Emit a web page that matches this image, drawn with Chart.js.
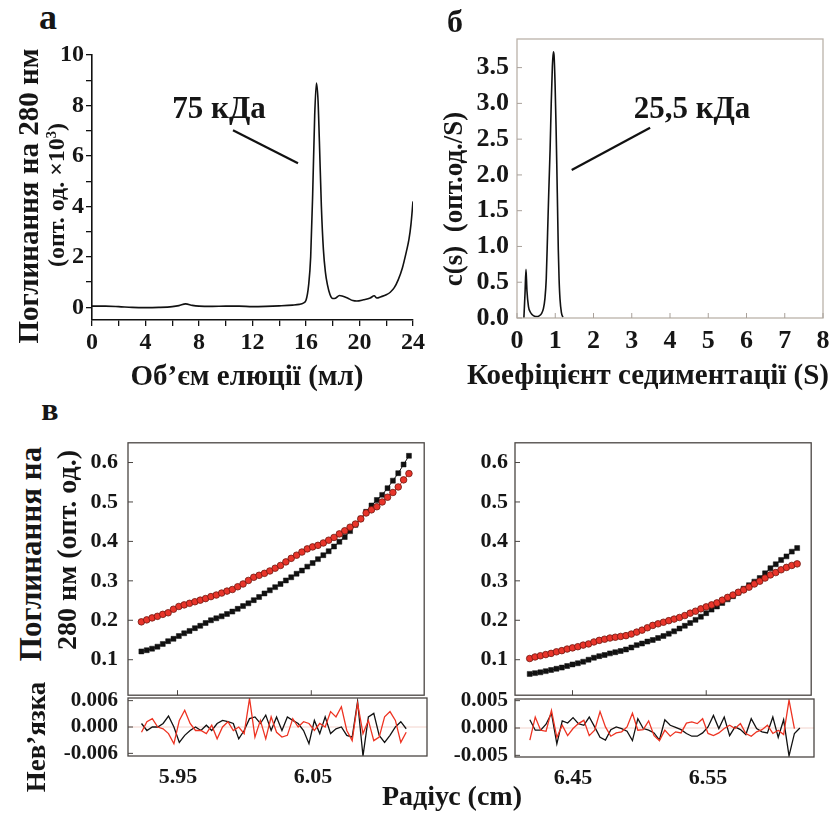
<!DOCTYPE html>
<html>
<head>
<meta charset="utf-8">
<script src="https://cdn.jsdelivr.net/npm/chart.js@4.4.1/dist/chart.umd.min.js"></script>
<style>
  body { margin: 0; background: #fff; }
  #fig { position: relative; width: 832px; height: 814px; overflow: hidden; }
  canvas { position: absolute; }
  .t { position: absolute; font-family: 'Liberation Serif', 'Times New Roman', serif; font-weight: bold;
       white-space: nowrap; line-height: 1; color: #161616; transform: translate(-50%, -50%); }
  .rot { transform: translate(-50%, -50%) rotate(-90deg); }
  sup { font-size: 60%; vertical-align: 0.55em; }
</style>
</head>
<body>
<div id="fig">
  <canvas id="a" width="398" height="330" style="left:30px;top:45px"></canvas>
  <canvas id="b" width="371" height="349" style="left:460px;top:29px"></canvas>
  <canvas id="clt" width="369" height="262" style="left:60px;top:438px"></canvas>
  <canvas id="clr" width="369" height="120" style="left:60px;top:676px"></canvas>
  <canvas id="crt" width="366" height="262" style="left:450px;top:438px"></canvas>
  <canvas id="crr" width="366" height="120" style="left:450px;top:677px"></canvas>

  <div class="t" style="left:48px;top:17px;font-size:36px">а</div>
  <div class="t" style="left:455px;top:21px;font-size:32px">б</div>
  <div class="t" style="left:50px;top:409px;font-size:32px">в</div>

  <div class="t rot" style="left:28px;top:196px;font-size:29px">Поглинання на 280 нм</div>
  <div class="t rot" style="left:56px;top:195px;font-size:24px">(опт. од. ×10<sup>3</sup>)</div>
  <div class="t" style="left:247px;top:375px;font-size:29px">Об’єм елюції (мл)</div>
  <div class="t" style="left:219px;top:107px;font-size:31px">75 кДа</div>

  <div class="t rot" style="left:453px;top:199px;font-size:27px">c(s)&nbsp;&nbsp;(опт.од./S)</div>
  <div class="t" style="left:648px;top:374px;font-size:29px">Коефіцієнт седиментації (S)</div>
  <div class="t" style="left:692px;top:107px;font-size:31px">25,5 кДа</div>

  <div class="t rot" style="left:30px;top:554px;font-size:31px">Поглинання на</div>
  <div class="t rot" style="left:67px;top:550px;font-size:28px">280 нм (опт. од.)</div>
  <div class="t rot" style="left:36px;top:737px;font-size:27px">Нев’язка</div>
  <div class="t" style="left:452px;top:796px;font-size:28px">Радіус (cm)</div>
</div>
<script>
// а: elution profile
const elutionVol = [0, 1, 2, 3, 4, 5, 6, 6.5, 7, 7.5, 8, 9, 10, 11, 12, 13, 14, 15, 15.5, 15.8,
  16.0, 16.2, 16.35, 16.5, 16.65, 16.78, 16.9, 17.0, 17.15, 17.3, 17.45, 17.6, 17.8, 18.0, 18.2,
  18.5, 18.7, 19.1, 19.5, 19.8, 20.3, 20.8, 21.1, 21.3, 21.6, 22.0, 22.3, 22.6, 22.9, 23.2, 23.5,
  23.7, 23.85, 24.0]
const absorb280 = [0.05, 0.05, 0.03, 0.0, -0.01, 0.0, 0.03, 0.07, 0.14, 0.08, 0.05, 0.04, 0.05, 0.05,
  0.03, 0.04, 0.06, 0.09, 0.12, 0.17, 0.28, 0.9, 2.0, 4.5, 7.6, 8.89, 8.2, 6.6, 4.0, 2.3, 1.4, 0.9,
  0.5, 0.35, 0.36, 0.47, 0.45, 0.37, 0.27, 0.25, 0.30, 0.37, 0.46, 0.37, 0.42, 0.50, 0.60, 0.78, 1.1,
  1.55, 2.2, 2.7, 3.3, 4.2]
const ticksA_x = [0, 2, 4, 6, 8, 10, 12, 14, 16, 18, 20, 22, 24]
const ticksA_y = [0, 1, 2, 3, 4, 5, 6, 7, 8, 9, 10]

// б: c(s) distribution
const sedCoef = [0.18, 0.21, 0.235, 0.26, 0.30, 0.35, 0.40, 0.46, 0.52, 0.58, 0.64, 0.69, 0.73, 0.765,
  0.80, 0.83, 0.865, 0.895, 0.925, 0.95, 0.97, 0.995, 1.02, 1.04, 1.06, 1.08, 1.10, 1.125, 1.16, 1.20]
const cs = [0, 0.35, 0.68, 0.38, 0.16, 0.08, 0.045, 0.025, 0.02, 0.03, 0.06, 0.13, 0.27, 0.55,
  1.19, 1.75, 2.35, 3.0, 3.52, 3.72, 3.66, 3.28, 2.7, 2.15, 1.55, 0.95, 0.55, 0.26, 0.08, 0.01]
const ticksB_x = [0, 1, 2, 3, 4, 5, 6, 7, 8]
const ticksB_y = [0, 0.5, 1.0, 1.5, 2.0, 2.5, 3.0, 3.5]

// в: sedimentation equilibrium, left cell
const radiusL = [5.923, 5.927, 5.931, 5.935, 5.939, 5.943, 5.947, 5.951, 5.955, 5.959, 5.963, 5.967,
  5.971, 5.975, 5.979, 5.983, 5.987, 5.991, 5.995, 5.999, 6.003, 6.007, 6.011, 6.015, 6.019, 6.023,
  6.027, 6.031, 6.035, 6.039, 6.043, 6.047, 6.051, 6.055, 6.059, 6.063, 6.067, 6.071, 6.075, 6.079,
  6.083, 6.087, 6.091, 6.095, 6.099, 6.103, 6.107, 6.111, 6.115, 6.119, 6.123]
const redL = [0.196, 0.201, 0.206, 0.210, 0.215, 0.219, 0.228, 0.235, 0.239, 0.243, 0.247, 0.251,
  0.255, 0.260, 0.264, 0.269, 0.274, 0.278, 0.285, 0.292, 0.301, 0.309, 0.314, 0.319, 0.325, 0.332,
  0.339, 0.348, 0.357, 0.365, 0.373, 0.381, 0.386, 0.390, 0.396, 0.403, 0.410, 0.419, 0.427, 0.436,
  0.444, 0.457, 0.472, 0.480, 0.488, 0.500, 0.512, 0.524, 0.538, 0.556, 0.572]
const blackL = [0.121, 0.124, 0.128, 0.133, 0.140, 0.147, 0.153, 0.160, 0.167, 0.173, 0.180, 0.186,
  0.193, 0.200, 0.205, 0.210, 0.216, 0.222, 0.229, 0.236, 0.243, 0.251, 0.259, 0.268, 0.276, 0.284,
  0.292, 0.301, 0.309, 0.318, 0.326, 0.336, 0.345, 0.355, 0.365, 0.375, 0.387, 0.399, 0.411, 0.426,
  0.442, 0.458, 0.475, 0.491, 0.505, 0.518, 0.535, 0.554, 0.573, 0.595, 0.617]
const resRedL = [-0.0012, 0.0012, 0.0019, 0, -0.0004, -0.0015, -0.0038, 0.0015, 0.0038, 0.0008,
  -0.0008, -0.0008, -0.0015, 0.0004, -0.0027, 0, 0.0012, -0.0008, 0, -0.0015, 0.0065, -0.0023,
  0.0015, -0.0027, 0.0023, -0.0012, -0.0023, -0.0019, 0.0019, 0, 0.0012, 0.0008, -0.0008, 0.0008,
  0, 0.0035, 0.0023, 0.0046, -0.0008, -0.0031, 0.0054, -0.0015, 0.0015, -0.0031, -0.0023, 0.0023,
  0.0035, 0.0015, -0.0035, -0.0012, null]
const resBlackL = [0.0008, -0.0008, 0, 0, 0.0008, 0.0025, 0, -0.0035, -0.0019, -0.0008, 0, -0.0008,
  0.0004, -0.0008, 0.0008, 0.0015, 0.0012, 0.0008, -0.0027, -0.0008, 0.0019, 0.0023, 0.0008, 0.0027,
  -0.0008, 0.0023, -0.0008, 0.0023, 0.0015, 0.0008, -0.0008, -0.0038, 0.0015, -0.0015, 0.0023,
  -0.0015, -0.0004, 0, -0.0019, -0.0023, 0.0058, -0.0066, 0.0023, 0.0031, -0.0019, -0.0035, -0.0019,
  0, 0.0012, -0.0004, null]

// в: right cell
const radiusR = [6.418, 6.422, 6.426, 6.430, 6.434, 6.438, 6.442, 6.446, 6.450, 6.454, 6.458, 6.462,
  6.466, 6.470, 6.474, 6.478, 6.482, 6.486, 6.490, 6.494, 6.498, 6.502, 6.506, 6.510, 6.514, 6.518,
  6.522, 6.526, 6.530, 6.534, 6.538, 6.542, 6.546, 6.550, 6.554, 6.558, 6.562, 6.566, 6.570, 6.574,
  6.578, 6.582, 6.586, 6.590, 6.594, 6.598, 6.602, 6.606, 6.610, 6.614, 6.618]
const redR = [0.103, 0.107, 0.110, 0.113, 0.116, 0.120, 0.123, 0.127, 0.130, 0.133, 0.137, 0.140,
  0.145, 0.149, 0.152, 0.155, 0.157, 0.159, 0.161, 0.165, 0.170, 0.175, 0.181, 0.187, 0.191, 0.195,
  0.199, 0.203, 0.207, 0.212, 0.218, 0.223, 0.229, 0.234, 0.239, 0.244, 0.251, 0.258, 0.264, 0.271,
  0.277, 0.284, 0.292, 0.299, 0.307, 0.315, 0.321, 0.328, 0.334, 0.339, 0.343]
const blackR = [0.064, 0.066, 0.068, 0.071, 0.074, 0.077, 0.080, 0.084, 0.088, 0.091, 0.095, 0.100,
  0.105, 0.109, 0.112, 0.116, 0.119, 0.122, 0.126, 0.131, 0.137, 0.141, 0.146, 0.150, 0.155, 0.160,
  0.166, 0.172, 0.179, 0.186, 0.193, 0.201, 0.209, 0.218, 0.227, 0.235, 0.244, 0.253, 0.261, 0.270,
  0.280, 0.289, 0.298, 0.307, 0.319, 0.332, 0.342, 0.353, 0.362, 0.374, 0.383]
const resRedR = [-0.0022, 0.0020, -0.0004, -0.0006, 0.0032, -0.0017, 0.0005, -0.0014, -0.0001,
  0.0008, 0.0014, -0.0014, -0.0004, 0.0030, 0.0002, -0.0015, -0.0009, -0.0007, 0.0002, 0.0027,
  -0.0004, -0.0003, 0.0013, -0.0014, -0.0023, -0.0004, -0.0015, -0.0007, -0.0009, 0.0009, 0.0011,
  0.0008, 0.0017, -0.0010, -0.0014, -0.0009, -0.0001, 0.0005, -0.0001, 0.0008, -0.0010, -0.0015,
  -0.0007, -0.0003, 0.0005, -0.0010, -0.0004, -0.0012, 0.0051, -0.0001, null]
const resBlackR = [0.0015, -0.0004, -0.0004, 0.0007, 0.0027, -0.0029, 0.0013, 0.0009, 0.0019, 0.0008,
  0.0005, 0.0020, 0.0002, -0.0017, -0.0022, -0.0003, 0.0002, -0.0001, -0.0006, -0.0023, 0.0017,
  -0.0001, -0.0004, -0.0009, -0.0022, 0.0015, 0.0005, 0.0001, -0.0003, -0.0010, -0.0015, -0.0015,
  -0.0009, 0.0002, 0.0023, -0.0001, 0.0020, -0.0014, 0.0002, -0.0003, -0.0012, 0.0017, -0.0001,
  -0.0007, -0.0009, 0.0020, -0.0017, 0.0015, -0.0051, -0.0010, 0.0000]

const ticksC_y = [0.1, 0.2, 0.3, 0.4, 0.5, 0.6]
const ticksCL_x = [5.95, 6.05]
const ticksCR_x = [6.45, 6.55]
const ticksResL = [-0.006, 0, 0.006]
const ticksResR = [-0.005, 0, 0.005]

Chart.defaults.font.family = "'Liberation Serif', 'Times New Roman', serif"
Chart.defaults.font.weight = 'bold'
Chart.defaults.color = '#161616'

const pts = (xs, ys) => xs.map((x, i) => ({ x: x, y: ys[i] }))
const setTicks = arr => scale => { scale.ticks = arr.map(v => ({ value: v })) }
// fixed axis sizes, and no extra room for edge labels
const fixW = w => s => { s.width = w; s.paddingTop = 0; s.paddingBottom = 0 }
const fixH = h => s => { s.height = h; s.paddingLeft = 0; s.paddingRight = 0 }
const noGrid = { display: false, drawTicks: false }

// box, inward ticks, zero line and callout lines
const frame = {
  id: 'frame',
  beforeDatasetsDraw(chart, args, o) {
    if (!o.zero) return
    const { ctx, chartArea: a, scales } = chart
    const y = scales.y.getPixelForValue(0)
    ctx.save()
    ctx.strokeStyle = o.zero
    ctx.lineWidth = 1
    ctx.beginPath(); ctx.moveTo(a.left, y); ctx.lineTo(a.right, y); ctx.stroke()
    ctx.restore()
  },
  afterDraw(chart, args, o) {
    const { ctx, chartArea: a, scales } = chart
    ctx.save()
    if (o.box) {
      ctx.strokeStyle = o.box
      ctx.lineWidth = o.width || 1
      ctx.strokeRect(a.left, a.top, a.right - a.left, a.bottom - a.top)
    }
    ctx.strokeStyle = o.tickColor || o.box || '#000'
    ctx.lineWidth = 1
    ctx.beginPath()
    ;(o.xTicks || []).forEach(v => {
      const x = scales.x.getPixelForValue(v)
      ctx.moveTo(x, a.bottom); ctx.lineTo(x, a.bottom - o.len)
    })
    ;(o.yTicks || []).forEach(v => {
      const y = scales.y.getPixelForValue(v)
      ctx.moveTo(a.left, y); ctx.lineTo(a.left + o.len, y)
    })
    ctx.stroke()
    if (o.callout) {
      const c = o.callout
      ctx.strokeStyle = '#111'
      ctx.lineWidth = 2.2
      ctx.beginPath()
      ctx.moveTo(scales.x.getPixelForValue(c[0]), scales.y.getPixelForValue(c[1]))
      ctx.lineTo(scales.x.getPixelForValue(c[2]), scales.y.getPixelForValue(c[3]))
      ctx.stroke()
    }
    ctx.restore()
  }
}

const base = {
  responsive: false,
  animation: false,
  events: [],
}

// а
new Chart(document.getElementById('a'), {
  type: 'scatter',
  data: { datasets: [{
    data: pts(elutionVol, absorb280), showLine: true, pointRadius: 0,
    borderColor: '#111', borderWidth: 1.6, cubicInterpolationMode: 'monotone'
  }] },
  plugins: [frame],
  options: Object.assign({}, base, {
    layout: { padding: { top: 10, right: 15, left: 0, bottom: 0 } },
    plugins: { legend: { display: false }, tooltip: { enabled: false },
      frame: { callout: [10.54, 7.02, 15.4, 5.71] } },
    scales: {
      x: {
        type: 'linear', min: 0, max: 24,
        afterBuildTicks: setTicks(ticksA_x),
        afterFit: fixH(55),
        ticks: { font: { size: 24 }, padding: 2, maxRotation: 0, autoSkip: false,
          callback: v => (v % 4 === 0 ? v : '') },
        grid: { drawOnChartArea: false, drawTicks: true, tickLength: 6, color: '#111', lineWidth: 1.3 },
        border: { color: '#111', width: 1.6 }
      },
      y: {
        min: -0.5, max: 10,
        afterBuildTicks: setTicks(ticksA_y),
        afterFit: fixW(62),
        ticks: { font: { size: 24 }, padding: 2, autoSkip: false,
          callback: v => (v % 2 === 0 ? v : '') },
        grid: { drawOnChartArea: false, drawTicks: true, tickLength: 6, color: '#111', lineWidth: 1.3 },
        border: { color: '#111', width: 1.6 }
      }
    }
  })
})

// б
new Chart(document.getElementById('b'), {
  type: 'scatter',
  data: { datasets: [{
    data: pts(sedCoef, cs), showLine: true, pointRadius: 0,
    borderColor: '#111', borderWidth: 1.6, cubicInterpolationMode: 'monotone'
  }] },
  plugins: [frame],
  options: Object.assign({}, base, {
    layout: { padding: { top: 10, right: 8, left: 0, bottom: 0 } },
    plugins: { legend: { display: false }, tooltip: { enabled: false },
      frame: { box: '#bab2aa', width: 1.3, tickColor: '#a9a19a', len: 5,
        xTicks: ticksB_x, yTicks: ticksB_y, callout: [1.43, 2.07, 3.48, 2.66] } },
    scales: {
      x: {
        type: 'linear', min: 0, max: 8,
        afterBuildTicks: setTicks(ticksB_x),
        afterFit: fixH(60),
        ticks: { font: { size: 26 }, padding: 8, maxRotation: 0, autoSkip: false },
        grid: noGrid, border: { display: false }
      },
      y: {
        min: 0, max: 3.9,
        afterBuildTicks: setTicks(ticksB_y),
        afterFit: fixW(57),
        ticks: { font: { size: 26 }, padding: 8, autoSkip: false, callback: v => v.toFixed(1) },
        grid: noGrid, border: { display: false }
      }
    }
  })
})

function cellChart(id, xr, redY, blackY, xMin, xMax, yWidth, xTicks, labPad) {
  new Chart(document.getElementById(id), {
    type: 'scatter',
    data: { datasets: [
      { data: pts(xr, redY), showLine: true, borderColor: '#e0301f', borderWidth: 1,
        pointRadius: 3.3, pointStyle: 'circle', pointBackgroundColor: '#e8342a',
        pointBorderColor: '#701810', pointBorderWidth: 0.8 },
      { data: pts(xr, blackY), showLine: true, borderColor: '#111', borderWidth: 1,
        pointRadius: 3.5, pointStyle: 'rect', pointBackgroundColor: '#111',
        pointBorderColor: '#111', pointBorderWidth: 0.5 }
    ] },
    plugins: [frame],
    options: Object.assign({}, base, {
      layout: { padding: { top: 2, right: 2, left: 0, bottom: 2 } },
      plugins: { legend: { display: false }, tooltip: { enabled: false },
        frame: { box: '#4a4643', width: 1.3, len: 5, xTicks: xTicks, yTicks: ticksC_y } },
      scales: {
        x: { type: 'linear', min: xMin, max: xMax, display: false },
        y: {
          min: 0.01, max: 0.65,
          afterBuildTicks: setTicks(ticksC_y),
          afterFit: fixW(yWidth),
          ticks: { font: { size: 22 }, padding: labPad, autoSkip: false, callback: v => v.toFixed(1) },
          grid: noGrid, border: { display: false }
        }
      }
    })
  })
}

function resChart(id, xr, resRed, resBlack, xMin, xMax, yWidth, xTicks, yTicks, yLim, labPad) {
  new Chart(document.getElementById(id), {
    type: 'scatter',
    data: { datasets: [
      { data: pts(xr, resRed), showLine: true, borderColor: '#ee3322', borderWidth: 1.3, pointRadius: 0 },
      { data: pts(xr, resBlack), showLine: true, borderColor: '#111', borderWidth: 1.3, pointRadius: 0 }
    ] },
    plugins: [frame],
    options: Object.assign({}, base, {
      layout: { padding: { top: 22, right: 2, left: 0, bottom: 0 } },
      plugins: { legend: { display: false }, tooltip: { enabled: false },
        frame: { box: '#4a4643', width: 1.3, len: 5, yTicks: yTicks, zero: '#f2d3cc' } },
      scales: {
        x: {
          type: 'linear', min: xMin, max: xMax,
          afterBuildTicks: setTicks(xTicks),
          afterFit: fixH(40),
          ticks: { font: { size: 22 }, padding: 8, maxRotation: 0, autoSkip: false, callback: v => v.toFixed(2) },
          grid: noGrid, border: { display: false }
        },
        y: {
          min: -yLim, max: yLim,
          afterBuildTicks: setTicks(yTicks),
          afterFit: fixW(yWidth),
          ticks: { font: { size: 21 }, padding: labPad, autoSkip: false, callback: v => v.toFixed(3) },
          grid: noGrid, border: { display: false }
        }
      }
    })
  })
}

cellChart('clt', radiusL, redL, blackL, 5.913, 6.1344, 68, ticksCL_x, 10)
resChart('clr', radiusL, resRedL, resBlackL, 5.913, 6.1344, 68, ticksCL_x, ticksResL, 0.0066, 10)
cellChart('crt', radiusR, redR, blackR, 6.407, 6.6285, 65, ticksCR_x, 7)
resChart('crr', radiusR, resRedR, resBlackR, 6.407, 6.6285, 65, ticksCR_x, ticksResR, 0.0053, 7)
</script>
</body>
</html>
